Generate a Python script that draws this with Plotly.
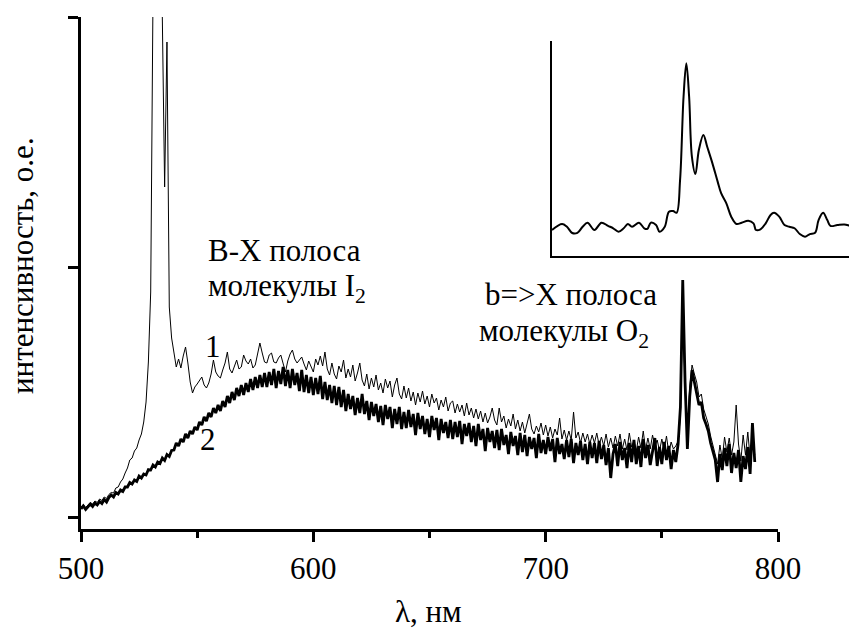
import numpy as np
import plotly.graph_objects as go

# ---------------- data ----------------
# spectrometer sampling grid, nm
WAVELENGTH = np.arange(500, 791, 1)

# curve 1 (thin line)
THIN = [
    2.0, 2.5, 1.9, 2.4, 2.9, 2.6, 3.2, 2.9, 3.6, 3.3,
    4.0, 3.7, 4.5, 4.9, 4.8, 5.8, 6.0, 7.0, 7.6, 8.8,
    9.8, 11.4, 11.8, 13.2, 13.8, 15.4, 16.6, 19.0, 23.0, 31.0,
    45.0, 105.0, 190.0, 240.0, 190.0, 100.0, 66.0, 95.0, 42.0, 35.8,
    33.0, 30.0, 31.6, 29.8, 32.2, 34.0, 30.8, 27.0, 24.8, 26.0,
    26.6, 27.4, 28.0, 26.4, 25.8, 26.8, 28.6, 31.4, 29.0, 28.2,
    27.8, 29.4, 30.8, 33.0, 29.6, 28.8, 30.2, 31.4, 29.6, 30.0,
    32.4, 31.2, 30.6, 31.6, 29.8, 30.4, 32.6, 34.8, 32.8, 31.0,
    30.8, 32.4, 32.8, 31.0, 30.8, 31.8, 32.4, 30.4, 29.0, 31.2,
    32.6, 33.4, 31.6, 30.8, 31.4, 32.0, 30.6, 29.4, 31.2, 30.0,
    29.0, 31.6, 30.4, 32.2, 30.2, 33.0, 29.6, 28.4, 30.8, 28.6,
    27.6, 30.2, 29.0, 31.4, 27.8, 29.6, 28.0, 30.4, 27.2, 28.8,
    30.8, 27.4, 26.2, 28.6, 25.6, 27.8, 26.0, 28.4, 25.4, 26.8,
    24.8, 27.6, 25.8, 27.2, 24.0, 26.4, 27.8, 24.6, 23.6, 26.2,
    23.8, 25.8, 23.2, 25.0, 22.4, 24.8, 23.0, 25.2, 22.6, 24.2,
    22.0, 24.6, 22.8, 23.8, 21.4, 23.4, 22.0, 24.0, 21.2, 22.8,
    23.2, 20.8, 22.6, 21.0, 22.4, 20.2, 22.8, 20.4, 21.8, 19.8,
    21.6, 19.6, 21.2, 19.0, 20.8, 18.8, 20.0, 21.8, 19.4, 18.4,
    21.8, 19.0, 20.2, 17.8, 19.6, 18.2, 20.6, 17.6, 19.4, 17.2,
    19.0, 16.8, 18.6, 20.6, 17.6, 16.6, 18.2, 17.0, 18.8, 16.4,
    18.4, 16.2, 18.0, 15.8, 17.6, 16.4, 19.8, 15.6, 17.4, 15.4,
    17.2, 15.4, 21.0, 15.8, 17.0, 14.8, 16.8, 15.0, 16.6, 14.6,
    16.4, 14.8, 16.8, 14.4, 16.0, 14.2, 16.6, 14.0, 15.8, 13.8,
    16.2, 14.2, 16.6, 13.6, 15.6, 13.4, 16.8, 14.0, 15.2, 13.2,
    16.0, 13.8, 17.2, 13.4, 15.8, 13.6, 16.4, 14.2, 15.4, 13.2,
    15.6, 13.4, 16.2, 12.8, 15.0, 13.6, 14.2, 15.2, 20.0, 42.0,
    26.0, 15.4, 26.0, 30.4, 28.6, 27.0, 24.0, 24.6, 21.6, 20.0,
    18.6, 16.2, 14.4, 12.8, 10.6, 14.4, 11.6, 16.0, 13.0, 15.8,
    12.4, 15.0, 22.4, 14.6, 11.2, 16.4, 12.4, 17.0, 11.8, 15.6,
    12.4,
]

# curve 2 (thick line)
THICK = [
    1.6, 2.2, 1.5, 2.0, 2.6, 2.1, 2.8, 2.4, 3.1, 2.7,
    3.5, 3.0, 3.9, 4.4, 4.0, 4.9, 4.6, 5.4, 5.1, 6.0,
    6.0, 6.9, 6.6, 7.4, 7.1, 8.2, 7.8, 8.6, 8.4, 9.5,
    9.4, 10.4, 10.0, 11.0, 10.7, 11.8, 11.3, 12.5, 12.1, 13.3,
    13.4, 14.8, 14.2, 15.6, 15.0, 16.6, 15.8, 17.2, 16.6, 18.0,
    17.4, 19.0, 18.4, 20.0, 19.2, 20.8, 20.0, 21.8, 20.8, 22.4,
    21.2, 23.2, 22.0, 24.2, 22.8, 25.0, 23.4, 25.8, 24.2, 26.4,
    24.4, 26.8, 25.0, 27.6, 25.4, 28.0, 25.8, 28.4, 26.0, 28.8,
    26.0, 29.0, 26.4, 29.6, 25.8, 29.2, 26.6, 30.0, 26.2, 29.4,
    25.8, 29.6, 26.4, 28.8, 25.2, 29.4, 25.0, 28.4, 24.8, 28.0,
    24.4, 27.8, 24.6, 28.2, 23.6, 27.0, 23.4, 26.4, 22.8, 26.2,
    22.4, 26.0, 22.0, 25.4, 21.2, 24.6, 21.6, 24.2, 20.4, 23.8,
    20.8, 24.6, 20.6, 23.2, 19.4, 23.0, 20.2, 22.6, 19.0, 22.2,
    18.4, 22.4, 19.6, 22.0, 17.8, 21.6, 18.6, 22.0, 17.6, 21.0,
    17.8, 21.4, 18.0, 20.6, 16.4, 20.8, 17.6, 20.2, 16.6, 19.6,
    16.0, 20.2, 17.4, 19.8, 15.4, 19.6, 16.8, 19.0, 15.8, 19.4,
    15.6, 19.0, 16.0, 19.2, 14.6, 18.6, 16.2, 18.8, 15.0, 18.2,
    14.2, 18.6, 15.4, 17.6, 13.2, 17.8, 15.0, 17.2, 13.8, 17.4,
    13.4, 17.6, 14.4, 16.4, 12.6, 17.0, 14.2, 16.2, 12.4, 16.8,
    13.0, 16.4, 12.2, 16.0, 13.6, 15.8, 11.8, 16.6, 12.8, 15.4,
    12.6, 16.0, 13.2, 15.6, 11.0, 15.8, 12.6, 14.6, 11.6, 15.4,
    12.0, 15.6, 10.8, 14.8, 12.4, 15.2, 11.4, 14.6, 10.6, 15.0,
    11.8, 14.8, 10.8, 15.2, 11.6, 14.4, 10.4, 13.8, 7.8, 12.6,
    14.6, 10.2, 15.0, 11.4, 13.8, 9.8, 14.8, 11.0, 15.4, 10.6,
    14.2, 10.0, 15.6, 11.8, 14.4, 10.4, 13.6, 15.8, 10.2, 14.0,
    10.6, 15.0, 11.4, 14.2, 9.6, 13.4, 11.0, 14.6, 22.0, 47.4,
    27.0, 13.6, 24.0, 29.4, 27.0, 24.6, 22.4, 23.0, 19.8, 18.6,
    17.2, 14.8, 13.0, 11.4, 7.0, 12.6, 9.4, 13.8, 10.2, 14.6,
    8.8, 12.8, 9.8, 13.4, 7.0, 12.2, 9.6, 14.0, 8.6, 18.8,
    11.0,
]

# inset: b->X band of O2 (smoothed)
INSET_WL = [
    720.0, 722.9, 724.3, 725.8, 727.3, 728.8, 730.2, 732.2, 734.2, 736.1,
    737.6, 739.1, 740.6, 741.8, 743.0, 745.0, 746.5, 747.4, 748.4, 749.9,
    750.9, 752.4, 753.6, 754.8, 755.8, 756.8, 757.8, 758.6, 759.4, 760.2,
    761.2, 762.2, 763.5, 764.6, 766.1, 767.6, 768.6, 770.1, 771.5, 773.0,
    774.5, 776.4, 777.9, 778.6, 779.9, 781.4, 782.8, 783.8, 785.3, 786.8,
    788.2, 789.7, 791.2, 792.7, 794.1, 795.6, 796.6, 797.9, 799.1, 800.0,
    802.0, 804.0, 805.9, 807.9, 809.4,
]
INSET_I = [
    12.1, 14.9, 13.6, 10.7, 10.8, 13.6, 15.5, 12.1, 15.5, 14.0,
    12.9, 11.3, 12.9, 14.9, 13.6, 15.5, 12.9, 12.6, 15.5, 14.4,
    11.3, 13.6, 20.6, 20.9, 20.1, 35.3, 74.1, 89.6, 74.1, 46.2,
    38.1, 49.3, 56.3, 50.8, 43.1, 34.6, 29.2, 24.5, 18.3, 14.9,
    15.5, 16.4, 15.2, 12.1, 12.4, 15.2, 19.1, 20.1, 18.3, 14.4,
    13.6, 12.9, 10.2, 9.0, 10.2, 10.8, 16.7, 20.1, 16.7, 14.0,
    14.4, 14.7, 14.0, 13.6, 12.9,
]

X_TICKS = [500, 600, 700, 800]
Y_TICKS = [0, 50, 100]

assert len(THIN) == len(WAVELENGTH) == len(THICK)
assert len(INSET_WL) == len(INSET_I)

# ---------------- figure ----------------
# the page body has an 8 px margin, so the figure is 16 px smaller than the window
OFF = 8
W, H = 857 - OFF, 628 - OFF
FONT = "Liberation Serif"
FS = 31


def pxx(x):
    return (x - OFF) / W


def pxy(y):
    return 1 - (y - OFF) / H


def tfont():
    return dict(family=FONT, size=FS, color="black")


fig = go.Figure()

fig.add_trace(go.Scatter(x=WAVELENGTH, y=THIN, mode="lines",
                         line=dict(color="black", width=1),
                         xaxis="x", yaxis="y", hoverinfo="skip"))
fig.add_trace(go.Scatter(x=WAVELENGTH, y=THICK, mode="lines",
                         line=dict(color="black", width=2.8),
                         xaxis="x", yaxis="y", hoverinfo="skip"))
fig.add_trace(go.Scatter(x=INSET_WL, y=INSET_I, mode="lines",
                         line=dict(color="black", width=2, shape="spline"),
                         xaxis="x2", yaxis="y2", hoverinfo="skip"))

fig.update_layout(
    width=W, height=H, autosize=False,
    margin=dict(l=0, r=0, t=0, b=0, autoexpand=False),
    paper_bgcolor="white", plot_bgcolor="white",
    showlegend=False,
    xaxis=dict(
        domain=[pxx(81), pxx(778)], range=[500, 800], automargin=False,
        showline=True, linewidth=3, linecolor="black",
        showgrid=False, zeroline=False,
        tickmode="array", tickvals=X_TICKS, ticks="outside",
        ticklen=10, tickwidth=3, tickcolor="black",
        tickfont=tfont(),
        minor=dict(tickmode="linear", tick0=550, dtick=100, ticks="outside",
                   ticklen=6, tickwidth=3, tickcolor="black", showgrid=False),
        anchor="y",
    ),
    yaxis=dict(
        domain=[pxy(529), pxy(17)], range=[-2.4, 100], automargin=False,
        showline=True, linewidth=3, linecolor="black",
        showgrid=False, zeroline=False,
        tickmode="array", tickvals=Y_TICKS, ticks="outside",
        ticklen=10, tickwidth=3, tickcolor="black",
        showticklabels=False,
        anchor="x",
    ),
    xaxis2=dict(
        domain=[pxx(552), 1.0], range=[720, 810 - OFF / 3.39], automargin=False,
        showline=True, linewidth=2, linecolor="black",
        showgrid=False, zeroline=False, ticks="", showticklabels=False,
        anchor="y2",
    ),
    yaxis2=dict(
        domain=[pxy(256), pxy(41)], range=[0, 100], automargin=False,
        showline=True, linewidth=2, linecolor="black",
        showgrid=False, zeroline=False, ticks="", showticklabels=False,
        anchor="x2",
    ),
)

notes = [
    ("B-X полоса", 206, 251, "left"),
    ("молекулы I<sub>2</sub>", 206, 288, "left"),
    ("b=>X полоса", 483, 294, "left"),
    ("молекулы O<sub>2</sub>", 477, 333, "left"),
    ("1", 203, 346, "left"),
    ("2", 198, 439, "left"),
    ("λ, нм", 428, 611, "center"),
]
for text, x, y, xa in notes:
    fig.add_annotation(text=text, x=pxx(x), y=pxy(y), xref="paper", yref="paper",
                       xanchor=xa, yanchor="middle", showarrow=False,
                       font=tfont())

fig.add_annotation(text="интенсивность, о.е.", x=pxx(22), y=pxy(266),
                   xref="paper", yref="paper",
                   xanchor="center", yanchor="middle", textangle=-90, showarrow=False,
                   font=tfont())

fig.write_html("out.html")
